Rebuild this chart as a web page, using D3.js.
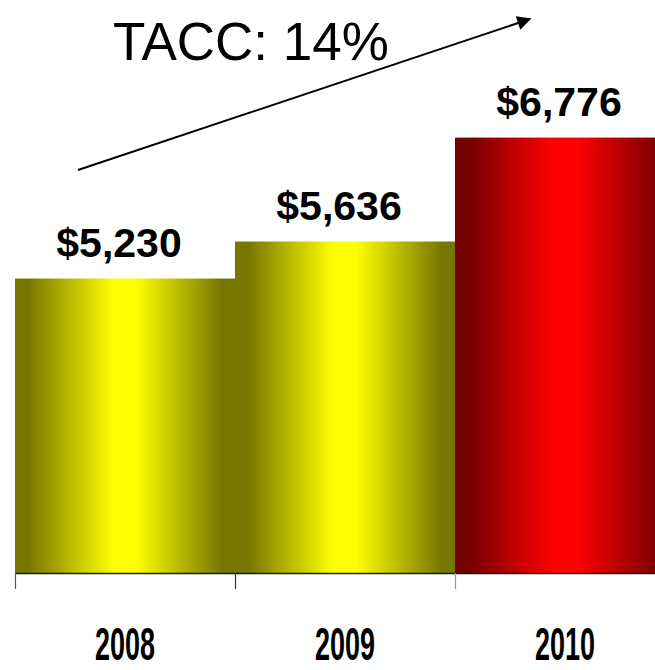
<!DOCTYPE html>
<html>
<head>
<meta charset="utf-8">
<script src="https://cdn.jsdelivr.net/npm/d3@7/dist/d3.min.js"></script>
<style>
html,body{margin:0;padding:0;background:#fff;overflow:hidden;}
svg{display:block;}
</style>
</head>
<body>
<svg id="chart" width="655" height="670"></svg>
<script>
const categories = ["2008", "2009", "2010"];
const values = [5230, 5636, 6776];
const valueLabels = ["$5,230", "$5,636", "$6,776"];
const barColors = ["yellow", "yellow", "red"];
const annotation = "TACC: 14%";

const svg = d3.select("#chart");
const W = 655, H = 670;
const baseY = 573;

const x = d3.scaleBand().domain(categories).range([15, 675]).padding(0);
const y = d3.scaleLinear().domain([2000, 8000]).range([baseY, 26]);

const defs = svg.append("defs");
function grad(id, edge, mid){
  const g = defs.append("linearGradient").attr("id", id)
    .attr("x1","0%").attr("x2","100%").attr("y1","0%").attr("y2","0%");
  [[0, edge],[0.06, edge],[0.45, mid],[0.55, mid],[0.94, edge],[1, edge]].forEach(([o,c])=>{
    g.append("stop").attr("offset", o).attr("stop-color", c);
  });
}
grad("g-yellow", "#777700", "#ffff00");
grad("g-red", "#740000", "#ff0000");

const marker = defs.append("marker").attr("id","arrow")
  .attr("viewBox","0 0 10 10").attr("refX",9).attr("refY",5)
  .attr("markerWidth",8).attr("markerHeight",7).attr("markerUnits","strokeWidth")
  .attr("orient","auto");
marker.append("path").attr("d","M0,0 L10,5 L0,10 Z").attr("fill","#000");

const data = categories.map((c,i)=>({c, v: values[i], label: valueLabels[i], color: barColors[i]}));

svg.append("g").selectAll("rect").data(data).join("rect")
  .attr("x", d => x(d.c))
  .attr("y", d => y(d.v))
  .attr("width", x.bandwidth())
  .attr("height", d => baseY - y(d.v))
  .attr("fill", d => `url(#g-${d.color})`);

// baseline
svg.append("line").attr("x1", 15).attr("x2", W).attr("y1", baseY + 0.5).attr("y2", baseY + 0.5)
  .attr("stroke", "#1a1a1a").attr("stroke-width", 1.5);

// ticks at band boundaries
const tickColors = ["#555", "#333", "#999"];
svg.append("g").selectAll("line").data(categories).join("line")
  .attr("x1", d => x(d) + 0.5).attr("x2", d => x(d) + 0.5)
  .attr("y1", baseY).attr("y2", baseY + 16)
  .attr("stroke", (d,i) => tickColors[i]).attr("stroke-width", 1.2);

// value labels
svg.append("g").selectAll("text").data(data).join("text")
  .attr("x", d => x(d.c) + x.bandwidth()/2 - 6)
  .attr("y", d => y(d.v) - 22)
  .attr("text-anchor", "middle")
  .attr("font-family", "'Liberation Sans', Arial, sans-serif")
  .attr("font-weight", "bold")
  .attr("font-size", 41)
  .attr("fill", "#000")
  .text(d => d.label);

// category labels (condensed)
svg.append("g").selectAll("text").data(categories).join("text")
  .attr("x", d => x(d) + x.bandwidth()/2)
  .attr("y", 660)
  .attr("text-anchor", "middle")
  .attr("font-family", "'Liberation Sans Narrow', 'Liberation Sans', Arial, sans-serif")
  .attr("font-weight", "bold")
  .attr("font-size", 47)
  .attr("textLength", 60)
  .attr("lengthAdjust", "spacingAndGlyphs")
  .attr("fill", "#000")
  .text(d => d);

// annotation
svg.append("text").attr("x", 113).attr("y", 60)
  .attr("font-family", "'Liberation Sans', Arial, sans-serif")
  .attr("font-size", 53).attr("fill", "#000")
  .text(annotation);

svg.append("line").attr("x1", 78).attr("y1", 170).attr("x2", 530).attr("y2", 19)
  .attr("stroke", "#000").attr("stroke-width", 2)
  .attr("marker-end", "url(#arrow)");
</script>
</body>
</html>
